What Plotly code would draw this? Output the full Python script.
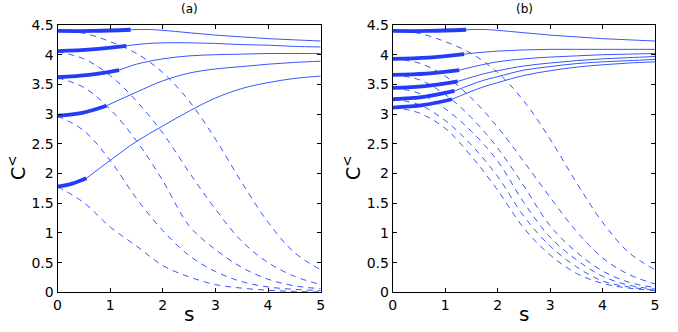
"""
Two-panel C^< versus s chart: solid and dashed curve families, (a) and (b).
"""

import plotly.graph_objects as go

# common s grid for the dashed curves
s_grid = [0.0, 0.5, 1.0, 1.5, 2.0, 2.5, 3.0, 3.5, 4.0, 4.5, 5.0]

# ---- panel (a) ----
a_dashed = [
    [4.40, 4.36, 4.22, 4.02, 3.70, 3.22, 2.58, 1.85, 1.18, 0.67, 0.38],
    [4.05, 3.93, 3.65, 3.22, 2.68, 2.02, 1.40, 0.86, 0.50, 0.27, 0.13],
    [3.61, 3.45, 3.08, 2.55, 1.88, 1.12, 0.72, 0.42, 0.22, 0.11, 0.06],
    [2.97, 2.72, 2.22, 1.58, 1.04, 0.62, 0.35, 0.18, 0.09, 0.05, 0.03],
    [1.78, 1.51, 1.10, 0.78, 0.45, 0.26, 0.13, 0.07, 0.035, 0.015, 0.006],
]
a_thick_s = [
    [0.0, 0.70, 1.39],
    [0.0, 0.65, 1.31],
    [0.0, 0.60, 1.17],
    [0.0, 0.47, 0.93],
    [0.0, 0.28, 0.55],
]
a_thick_y = [
    [4.40, 4.40, 4.42],
    [4.06, 4.09, 4.15],
    [3.62, 3.66, 3.74],
    [2.97, 3.02, 3.14],
    [1.78, 1.83, 1.92],
]
a_solid_s = [
    [1.39, 1.7, 2.0, 2.5, 3.0, 3.5, 4.0, 4.5, 5.0],
    [1.31, 1.6, 2.0, 2.5, 3.0, 3.5, 4.0, 4.5, 5.0],
    [1.17, 1.5, 2.0, 2.5, 3.0, 3.5, 4.0, 4.5, 5.0],
    [0.93, 1.5, 2.0, 2.5, 3.0, 3.5, 4.0, 4.5, 5.0],
    [0.55, 1.0, 1.5, 2.0, 2.5, 3.0, 3.5, 4.0, 4.5, 5.0],
]
a_solid_y = [
    [4.42, 4.425, 4.41, 4.37, 4.33, 4.30, 4.27, 4.25, 4.23],
    [4.15, 4.18, 4.20, 4.20, 4.19, 4.17, 4.16, 4.14, 4.13],
    [3.74, 3.84, 3.93, 3.98, 4.00, 4.01, 4.02, 4.02, 4.02],
    [3.14, 3.37, 3.56, 3.69, 3.76, 3.80, 3.84, 3.87, 3.89],
    [1.92, 2.22, 2.54, 2.80, 3.05, 3.27, 3.43, 3.53, 3.60, 3.64],
]

# ---- panel (b) ----
b_dashed = [
    [4.40, 4.36, 4.22, 4.02, 3.70, 3.22, 2.58, 1.85, 1.18, 0.67, 0.38],
    [3.93, 3.86, 3.64, 3.27, 2.78, 2.20, 1.60, 1.03, 0.58, 0.30, 0.14],
    [3.66, 3.58, 3.33, 2.94, 2.43, 1.79, 1.12, 0.68, 0.36, 0.17, 0.08],
    [3.44, 3.35, 3.09, 2.71, 2.21, 1.51, 0.93, 0.55, 0.27, 0.12, 0.055],
    [3.25, 3.16, 2.89, 2.48, 1.95, 1.28, 0.78, 0.43, 0.19, 0.09, 0.04],
    [3.11, 3.02, 2.76, 2.29, 1.72, 1.08, 0.63, 0.32, 0.15, 0.07, 0.03],
]
b_thick_s = [
    [0.0, 0.70, 1.40],
    [0.0, 0.68, 1.36],
    [0.0, 0.64, 1.27],
    [0.0, 0.62, 1.24],
    [0.0, 0.59, 1.18],
    [0.0, 0.57, 1.13],
]
b_thick_y = [
    [4.40, 4.40, 4.42],
    [3.93, 3.95, 4.01],
    [3.66, 3.68, 3.74],
    [3.44, 3.47, 3.55],
    [3.25, 3.29, 3.39],
    [3.11, 3.15, 3.25],
]
b_solid_s = [
    [1.40, 1.7, 2.0, 2.5, 3.0, 3.5, 4.0, 4.5, 5.0],
    [1.36, 1.7, 2.0, 2.5, 3.0, 3.5, 4.0, 4.5, 5.0],
    [1.27, 1.7, 2.0, 2.5, 3.0, 3.5, 4.0, 4.5, 5.0],
    [1.24, 1.7, 2.0, 2.5, 3.0, 3.5, 4.0, 4.5, 5.0],
    [1.18, 1.7, 2.0, 2.5, 3.0, 3.5, 4.0, 4.5, 5.0],
    [1.13, 1.7, 2.0, 2.5, 3.0, 3.5, 4.0, 4.5, 5.0],
]
b_solid_y = [
    [4.42, 4.425, 4.41, 4.37, 4.33, 4.30, 4.27, 4.25, 4.23],
    [4.01, 4.04, 4.06, 4.08, 4.09, 4.09, 4.09, 4.09, 4.09],
    [3.74, 3.83, 3.88, 3.93, 3.96, 3.98, 4.00, 4.01, 4.02],
    [3.55, 3.67, 3.73, 3.81, 3.86, 3.90, 3.93, 3.95, 3.97],
    [3.39, 3.56, 3.63, 3.74, 3.80, 3.85, 3.88, 3.90, 3.92],
    [3.25, 3.45, 3.53, 3.65, 3.73, 3.79, 3.83, 3.86, 3.88],
]

x_ticks = [0, 1, 2, 3, 4, 5]
y_ticks = [0, 0.5, 1, 1.5, 2, 2.5, 3, 3.5, 4, 4.5]
y_tick_text = ["0", "0.5", "1", "1.5", "2", "2.5", "3", "3.5", "4", "4.5"]

THIN = "rgb(55,85,255)"
THICK = "rgb(35,60,245)"
FONT = "DejaVu Sans, Liberation Sans, Arial"

W, H = 678, 332

fig = go.Figure()


def add_panel(xa, ya, dashed, thick_s, thick_y, solid_s, solid_y):
    """Add one panel's dashed, thin solid and thick solid curves."""
    for ys in dashed:
        fig.add_trace(go.Scatter(
            x=s_grid, y=ys, mode="lines", xaxis=xa, yaxis=ya,
            line=dict(color=THIN, width=1, dash="6px,5px", shape="spline"),
            showlegend=False, hoverinfo="skip"))
    for xs, ys in zip(solid_s, solid_y):
        fig.add_trace(go.Scatter(
            x=xs, y=ys, mode="lines", xaxis=xa, yaxis=ya,
            line=dict(color=THIN, width=1, shape="spline"),
            showlegend=False, hoverinfo="skip"))
    for xs, ys in zip(thick_s, thick_y):
        fig.add_trace(go.Scatter(
            x=xs, y=ys, mode="lines", xaxis=xa, yaxis=ya,
            line=dict(color=THICK, width=3.8, shape="spline"),
            showlegend=False, hoverinfo="skip"))


add_panel("x", "y", a_dashed, a_thick_s, a_thick_y, a_solid_s, a_solid_y)
add_panel("x2", "y2", b_dashed, b_thick_s, b_thick_y, b_solid_s, b_solid_y)

axis_common = dict(
    showline=True, linecolor="black", linewidth=1, mirror="ticks",
    ticks="inside", ticklen=4, tickcolor="black", showgrid=False,
    zeroline=False, automargin=False,
    tickfont=dict(family=FONT, size=14, color="black"),
)

y_dom = [1 - 292.3 / H, 1 - 25 / H]

fig.update_layout(
    width=W, height=H,
    margin=dict(l=0, r=0, t=0, b=0),
    paper_bgcolor="white", plot_bgcolor="white",
    xaxis=dict(domain=[57.5 / W, 320.7 / W], range=[0, 5], tickvals=x_ticks,
               anchor="y", **axis_common),
    yaxis=dict(domain=y_dom, range=[0, 4.5], tickvals=y_ticks,
               ticktext=y_tick_text, anchor="x", **axis_common),
    xaxis2=dict(domain=[392.7 / W, 655 / W], range=[0, 5], tickvals=x_ticks,
                anchor="y2", **axis_common),
    yaxis2=dict(domain=y_dom, range=[0, 4.5], tickvals=y_ticks,
                ticktext=y_tick_text, anchor="x2", **axis_common),
)

# panel titles and axis labels
labels = [
    dict(text="(a)", x=189 / W, y=1 - 9 / H, size=12, angle=0),
    dict(text="(b)", x=524 / W, y=1 - 9 / H, size=12, angle=0),
    dict(text="s", x=189 / W, y=1 - 314 / H, size=20, angle=0),
    dict(text="s", x=524 / W, y=1 - 314 / H, size=20, angle=0),
    dict(text="C<sup>&lt;</sup>", x=17 / W, y=1 - 168 / H, size=19, angle=-90),
    dict(text="C<sup>&lt;</sup>", x=352 / W, y=1 - 168 / H, size=19, angle=-90),
]
for lab in labels:
    fig.add_annotation(
        text=lab["text"], x=lab["x"], y=lab["y"], xref="paper", yref="paper",
        showarrow=False, textangle=lab["angle"], xanchor="center",
        yanchor="middle",
        font=dict(family=FONT, size=lab["size"], color="black"))

# the page body has a default 8px margin; drop it so the figure sits at 0,0
fig.write_html(
    "out.html",
    config={"displayModeBar": False},
    post_script="document.body.style.margin='0px';",
)
